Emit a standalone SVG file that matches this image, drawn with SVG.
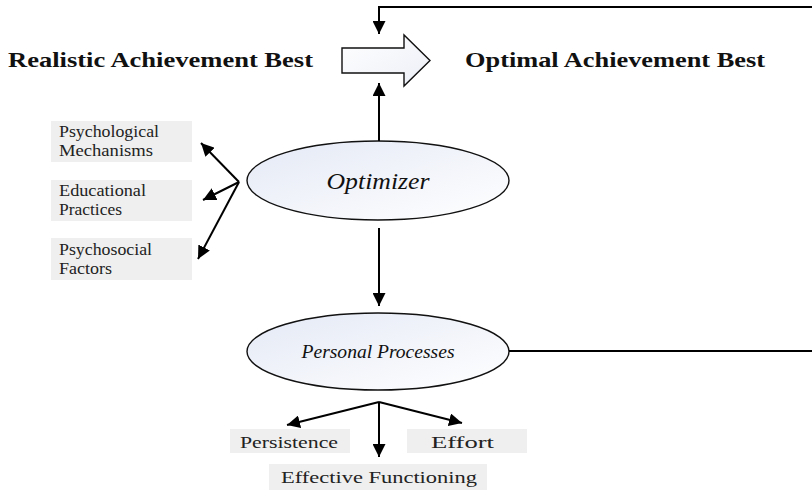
<svg xmlns="http://www.w3.org/2000/svg" width="812" height="490" viewBox="0 0 812 490">
  <style>
    .title { font-family: "Liberation Serif", "DejaVu Serif", serif; font-weight: bold; font-size: 22px; fill: #111; }
    .oval-label { font-family: "Liberation Serif", "DejaVu Serif", serif; font-style: italic; fill: #111; }
    .box-label { font-family: "Liberation Serif", "DejaVu Serif", serif; font-size: 16px; fill: #222; }
    .box { fill: #efefef; stroke: none; }
    .oval { fill: url(#ovalFill); stroke: #111; stroke-width: 1.4; }
    .link { fill: none; stroke: #000; stroke-width: 2; }
  </style>
  <defs>
    <linearGradient id="ovalFill" x1="0" y1="0" x2="1" y2="1">
      <stop offset="0" stop-color="#e4e9f5"/>
      <stop offset="1" stop-color="#ffffff"/>
    </linearGradient>
    <linearGradient id="blockFill" x1="0" y1="0" x2="1" y2="1">
      <stop offset="0" stop-color="#ffffff"/>
      <stop offset="1" stop-color="#eceff7"/>
    </linearGradient>
    <marker id="head" viewBox="0 0 12 12" refX="12" refY="6" markerWidth="13" markerHeight="13" markerUnits="userSpaceOnUse" orient="auto">
      <path d="M0,0 L12,6 L0,12 Z" fill="#000"/>
    </marker>
  </defs>

  <!-- headline: realistic to optimal -->
  <g id="realistic-best">
    <text class="title" x="8" y="67" textLength="305" lengthAdjust="spacingAndGlyphs">Realistic Achievement Best</text>
  </g>
  <g id="block-arrow">
    <path d="M342,48 H404 V35 L430,60.5 L404,86 V73 H342 Z" fill="url(#blockFill)" stroke="#111" stroke-width="1.4"/>
  </g>
  <g id="optimal-best">
    <text class="title" x="465" y="67" textLength="300" lengthAdjust="spacingAndGlyphs">Optimal Achievement Best</text>
  </g>

  <!-- central ovals -->
  <g id="optimizer">
    <ellipse class="oval" cx="378" cy="180.5" rx="131" ry="39.5"/>
    <text class="oval-label" x="378" y="189" font-size="23" text-anchor="middle" textLength="103" lengthAdjust="spacingAndGlyphs">Optimizer</text>
  </g>
  <g id="personal-processes">
    <ellipse class="oval" cx="378" cy="351.5" rx="131" ry="38.5"/>
    <text class="oval-label" x="378" y="358" font-size="18" text-anchor="middle" textLength="153" lengthAdjust="spacingAndGlyphs">Personal Processes</text>
  </g>

  <!-- optimizer outcomes -->
  <g id="psychological-mechanisms">
    <rect class="box" x="51" y="121" width="141" height="41"/>
    <text class="box-label" x="59" y="137" textLength="100" lengthAdjust="spacingAndGlyphs">Psychological</text>
    <text class="box-label" x="59" y="156" textLength="94" lengthAdjust="spacingAndGlyphs">Mechanisms</text>
  </g>
  <g id="educational-practices">
    <rect class="box" x="51" y="180" width="141" height="41"/>
    <text class="box-label" x="59" y="196" textLength="87" lengthAdjust="spacingAndGlyphs">Educational</text>
    <text class="box-label" x="59" y="215" textLength="63" lengthAdjust="spacingAndGlyphs">Practices</text>
  </g>
  <g id="psychosocial-factors">
    <rect class="box" x="51" y="238" width="141" height="42"/>
    <text class="box-label" x="59" y="255" textLength="93" lengthAdjust="spacingAndGlyphs">Psychosocial</text>
    <text class="box-label" x="59" y="274" textLength="53" lengthAdjust="spacingAndGlyphs">Factors</text>
  </g>

  <!-- personal process outcomes -->
  <g id="persistence">
    <rect class="box" x="230" y="429" width="120" height="24"/>
    <text class="box-label" x="240" y="448" font-size="18" textLength="98" lengthAdjust="spacingAndGlyphs">Persistence</text>
  </g>
  <g id="effort">
    <rect class="box" x="407" y="429" width="120" height="24"/>
    <text class="box-label" x="431" y="448" font-size="18" textLength="63" lengthAdjust="spacingAndGlyphs">Effort</text>
  </g>
  <g id="effective-functioning">
    <rect class="box" x="269" y="464" width="218" height="26"/>
    <text class="box-label" x="281" y="483" font-size="18" textLength="196" lengthAdjust="spacingAndGlyphs">Effective Functioning</text>
  </g>

  <!-- connectors -->
  <g id="connectors">
    <path class="link" d="M812,7 H379 V34" marker-end="url(#head)"/>
    <path class="link" d="M379,141 V83" marker-end="url(#head)"/>
    <path class="link" d="M379,228 V306" marker-end="url(#head)"/>
    <path class="link" d="M509,351 H812"/>
    <path class="link" d="M239,182 L201,143" marker-end="url(#head)"/>
    <path class="link" d="M239,182 L203,200" marker-end="url(#head)"/>
    <path class="link" d="M239,182 L198,259" marker-end="url(#head)"/>
    <path class="link" d="M379,402 L287,425" marker-end="url(#head)"/>
    <path class="link" d="M379,402 V457" marker-end="url(#head)"/>
    <path class="link" d="M379,402 L462,423" marker-end="url(#head)"/>
  </g>
</svg>
